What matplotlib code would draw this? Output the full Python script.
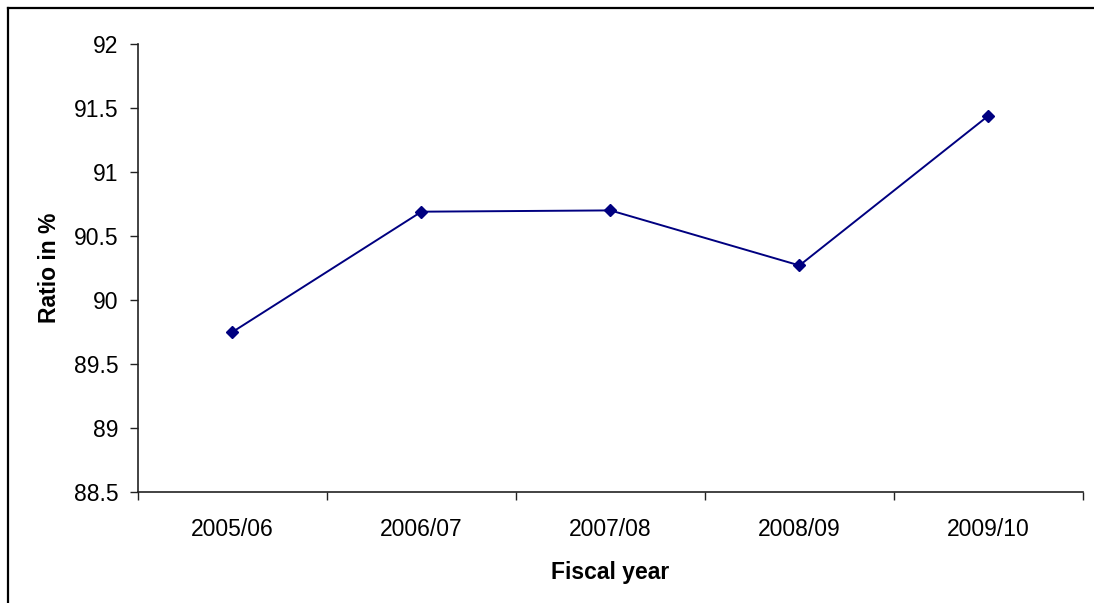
import matplotlib
matplotlib.use("Agg")
import matplotlib.pyplot as plt
from matplotlib.lines import Line2D
from matplotlib.ticker import FixedLocator, MultipleLocator

years = ["2005/06", "2006/07", "2007/08", "2008/09", "2009/10"]
ratio = [89.75, 90.69, 90.70, 90.27, 91.44]

plt.rcParams["font.family"] = ["Liberation Sans", "DejaVu Sans"]

fig = plt.figure(figsize=(10.94, 6.03), dpi=100)
ax = fig.add_axes([0.1261, 0.1841, 0.8638, 0.7429])

x = list(range(len(years)))
ax.plot(x, ratio, color="#000080", linewidth=1.4, marker="D",
        markersize=6.5, markerfacecolor="#000080", markeredgecolor="#000080")

ax.set_xlim(-0.5, len(years) - 0.5)
ax.set_ylim(88.5, 92)
ax.yaxis.set_major_locator(MultipleLocator(0.5))
ax.yaxis.set_major_formatter(plt.FuncFormatter(lambda v, _: f"{v:g}"))

ax.set_xticks(x)
ax.set_xticklabels(years)
ax.xaxis.set_minor_locator(FixedLocator([i - 0.5 for i in range(len(years) + 1)]))
ax.tick_params(axis="x", which="major", length=0, pad=19, labelsize=16.5)
ax.tick_params(axis="x", which="minor", length=6, width=1, color="#222222")
ax.tick_params(axis="y", length=6, width=1, color="#222222", pad=8, labelsize=16.5)

for side in ("top", "right"):
    ax.spines[side].set_visible(False)
for side in ("left", "bottom"):
    ax.spines[side].set_color("#222222")
    ax.spines[side].set_linewidth(1.2)

ax.set_xlabel("Fiscal year", fontsize=16.5, fontweight="bold", labelpad=14)
ax.set_ylabel("Ratio in %", fontsize=16.5, fontweight="bold", labelpad=9)

# outer chart border (left and top edges)
fig.add_artist(Line2D([8 / 1094, 8 / 1094], [0, 1 - 8 / 603],
                      transform=fig.transFigure, color="black", linewidth=1.6))
fig.add_artist(Line2D([8 / 1094, 1], [1 - 8 / 603, 1 - 8 / 603],
                      transform=fig.transFigure, color="black", linewidth=1.6))

fig.savefig("out.png", dpi=100, facecolor="white")
